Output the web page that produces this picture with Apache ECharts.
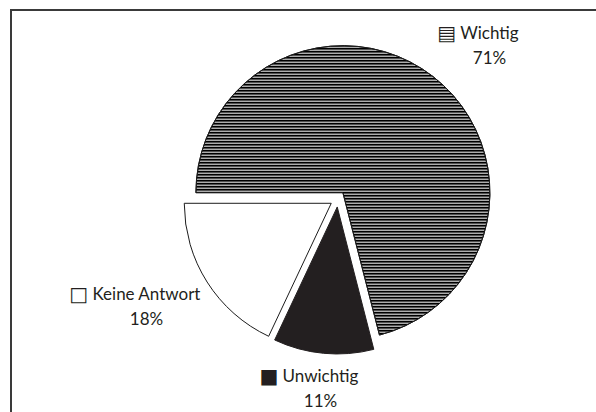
<!DOCTYPE html>
<html>
<head>
<meta charset="utf-8">
<script src="https://cdn.jsdelivr.net/npm/echarts@6/dist/echarts.min.js"></script>
<style>
  html, body { margin: 0; padding: 0; background: #fff; }
  #chart { width: 596px; height: 412px; }
</style>
</head>
<body>
<div id="chart"></div>
<script>
    'use strict';

    // answers, in clockwise order starting at 9 o'clock
    var categories = ['Wichtig', 'Unwichtig', 'Keine Antwort'];
    var shares = [71, 11, 18];
    var icons = ['\u25A4', '\u25A0', '\u25A1'];

    // label block centre for each slice
    var labelPos = [[478, 45], [309, 388], [135, 306]];

    var stripes = {
        symbol: 'rect',
        symbolSize: 1,
        dashArrayX: [10, 0],
        dashArrayY: [2, 1],
        color: '#000000',
        rotation: 0
    };

    var styles = [
        { color: '#ffffff', borderColor: '#1c1c1c', borderWidth: 1, decal: stripes },
        { color: '#231f20', borderColor: '#231f20', borderWidth: 1 },
        { color: '#ffffff', borderColor: '#1c1c1c', borderWidth: 1 }
    ];

    var data = categories.map(function(name, i) {
        return {
            name: name,
            value: shares[i],
            selected: true,
            itemStyle: styles[i],
            select: { itemStyle: styles[i] }
        };
    });

    var rich = {
        ic: { fontFamily: 'DejaVu Sans', fontSize: 20, fill: '#231f20', lineHeight: 25, padding: [0, 4, 0, 0] },
        sp: { fontFamily: 'DejaVu Sans', fontSize: 20, fill: 'rgba(0,0,0,0)', lineHeight: 25, padding: [0, 4, 0, 0] },
        n: { fontFamily: 'Lato', fontSize: 17, fill: '#231f20', lineHeight: 25 }
    };

    var labels = categories.map(function(name, i) {
        return {
            type: 'text',
            silent: true,
            x: labelPos[i][0],
            y: labelPos[i][1],
            style: {
                text: '{ic|' + icons[i] + '}{n|' + name + '}\n{sp|' + icons[i] + '}{n|' + shares[i] + '%}',
                align: 'center',
                verticalAlign: 'middle',
                rich: rich
            }
        };
    });

    var chart = echarts.init(document.getElementById('chart'), null, { renderer: 'svg' });

    chart.setOption({
        animation: false,
        graphic: [{
            type: 'rect',
            shape: { x: 11, y: 10, width: 700, height: 500 },
            style: { fill: 'none', stroke: '#3a3a3a', lineWidth: 2 },
            silent: true
        }].concat(labels),
        series: [{
            type: 'pie',
            center: [338, 199],
            radius: 147,
            startAngle: 180,
            clockwise: true,
            selectedMode: 'multiple',
            selectedOffset: 8,
            emphasis: { disabled: true },
            label: { show: false },
            labelLine: { show: false },
            data: data
        }]
    });
</script>
</body>
</html>
